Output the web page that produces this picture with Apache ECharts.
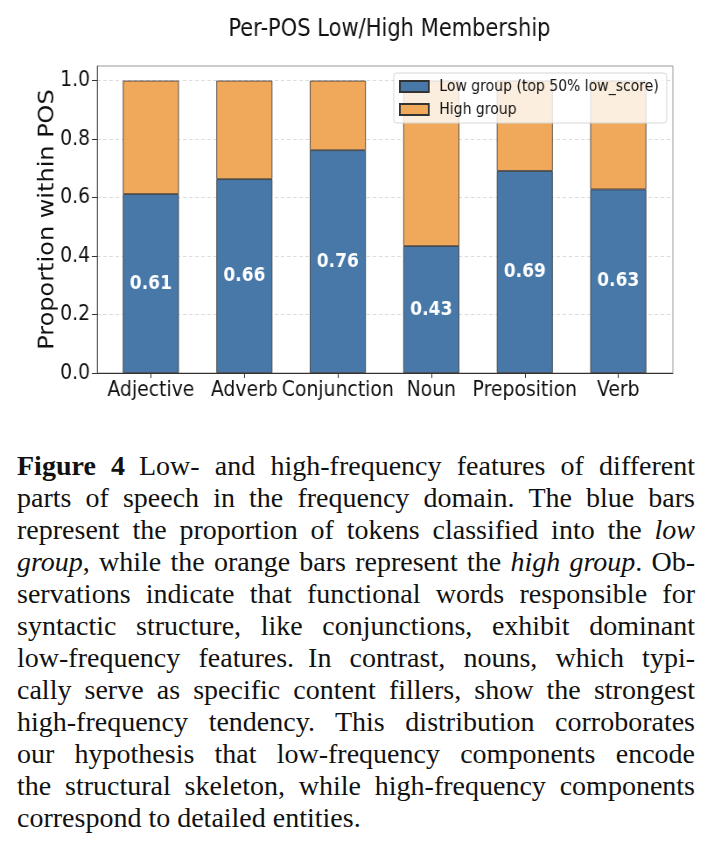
<!DOCTYPE html>
<html>
<head>
<meta charset="utf-8">
<script src="https://cdn.jsdelivr.net/npm/echarts@6/dist/echarts.min.js"></script>
<style>
  html, body { margin: 0; padding: 0; background: #fff; overflow: hidden; }
  /* the original figure is squeezed horizontally, so draw wider and squeeze */
  #chart {
    position: absolute; left: 0; top: 0; width: 815px; height: 440px;
    transform: scaleX(0.875); transform-origin: 0 0;
  }
  #caption {
    position: absolute; left: 17px; top: 450px; width: 678px;
    font-family: 'Liberation Serif', serif; font-size: 28px; line-height: 32px; color: #111;
  }
  #caption div { text-align: justify; text-align-last: justify; word-spacing: -3px; }
  #caption div.last { text-align-last: left; word-spacing: normal; }
</style>
</head>
<body>
<div id="chart"></div>
<div id="caption">
  <div><b>Figure 4</b>&ensp;Low- and high-frequency features of different</div>
  <div>parts of speech in the frequency domain.&ensp;The blue bars</div>
  <div>represent the proportion of tokens classified into the <i>low</i></div>
  <div><i>group</i>, while the orange bars represent the <i>high group</i>. Ob-</div>
  <div>servations indicate that functional words responsible for</div>
  <div>syntactic structure, like conjunctions, exhibit dominant</div>
  <div>low-frequency features.&ensp;In contrast, nouns, which typi-</div>
  <div>cally serve as specific content fillers, show the strongest</div>
  <div>high-frequency tendency. This distribution corroborates</div>
  <div>our hypothesis that low-frequency components encode</div>
  <div>the structural skeleton, while high-frequency components</div>
  <div class="last">correspond to detailed entities.</div>
</div>
<script>
// data
const categories = ['Adjective', 'Adverb', 'Conjunction', 'Noun', 'Preposition', 'Verb'];
const lowShare = [0.612, 0.663, 0.762, 0.434, 0.691, 0.628];
const highShare = [0.388, 0.337, 0.238, 0.566, 0.309, 0.372];
const yTicks = [0, 0.2, 0.4, 0.6, 0.8, 1.0];

const font = 'DejaVu Sans';
const blue = '#4878a8';
const orange = '#f0a85a';
const edge = '#333';

const chart = echarts.init(document.getElementById('chart'));

chart.setOption({
  animation: false,
  textStyle: { fontFamily: font },
  title: {
    text: 'Per-POS Low/High Membership',
    left: 440, top: 13, textAlign: 'center',
    textStyle: { fontSize: 24, fontWeight: 'normal', color: '#111', fontFamily: font }
  },
  legend: {
    orient: 'vertical', left: 450, top: 73,
    padding: [4, 9, 4, 6], itemWidth: 33, itemHeight: 11, itemGap: 4,
    icon: 'rect',
    backgroundColor: 'rgba(255,255,255,0.8)', borderColor: '#d6d6d6', borderWidth: 1, borderRadius: 3,
    textStyle: { fontSize: 16, color: '#111', lineHeight: 19, fontFamily: font, padding: [0, 0, 0, 7] },
    data: ['Low group (top 50% low_score)', 'High group']
  },
  // grid 0 holds the bars, grid 1 is the frame with y axis + gridlines
  grid: [
    { left: 119, right: 55, top: 66, bottom: 67 },
    { left: 111, right: 46, top: 66, bottom: 67, show: true, borderColor: '#999', borderWidth: 1 }
  ],
  xAxis: [
    {
      type: 'category', gridIndex: 0, data: categories,
      axisLine: { show: false },
      axisTick: { show: true, alignWithLabel: true, length: 5, lineStyle: { color: edge } },
      axisLabel: { fontSize: 21.5, color: '#111', margin: 6, interval: 0, fontFamily: font },
      splitLine: { show: false }
    },
    {
      type: 'value', gridIndex: 1, min: 0, max: 1,
      axisLine: { show: true, onZero: false, lineStyle: { color: edge } },
      axisTick: { show: false }, axisLabel: { show: false }, splitLine: { show: false }
    }
  ],
  yAxis: [
    { type: 'value', gridIndex: 0, min: 0, max: 1.05, show: false },
    {
      type: 'value', gridIndex: 1, min: 0, max: 1.05, interval: 0.2,
      name: 'Proportion within POS', nameLocation: 'middle', nameGap: 44, nameMoveOverlap: false,
      nameTextStyle: { fontSize: 24, color: '#111', fontFamily: font },
      axisLine: { show: true, lineStyle: { color: '#555' } },
      axisTick: { show: true, length: 6, customValues: yTicks, lineStyle: { color: edge } },
      axisLabel: { customValues: yTicks, formatter: v => v.toFixed(1), fontSize: 21.5, color: '#111', margin: 8, fontFamily: font },
      splitLine: { show: true, lineStyle: { color: '#dcdcdc', type: [4, 3], width: 1 } }
    }
  ],
  series: [
    {
      name: 'Low group (top 50% low_score)', type: 'bar', stack: 'pos',
      xAxisIndex: 0, yAxisIndex: 0, barWidth: 64,
      itemStyle: { color: blue, borderColor: edge, borderWidth: 0.8 },
      label: {
        show: true, position: 'inside', formatter: p => p.value.toFixed(2),
        color: '#fff', fontWeight: 'bold', fontSize: 19.5, fontFamily: font
      },
      data: lowShare
    },
    {
      name: 'High group', type: 'bar', stack: 'pos',
      xAxisIndex: 0, yAxisIndex: 0, barWidth: 64,
      itemStyle: { color: orange, borderColor: edge, borderWidth: 0.8 },
      data: highShare
    }
  ]
});
</script>
</body>
</html>
